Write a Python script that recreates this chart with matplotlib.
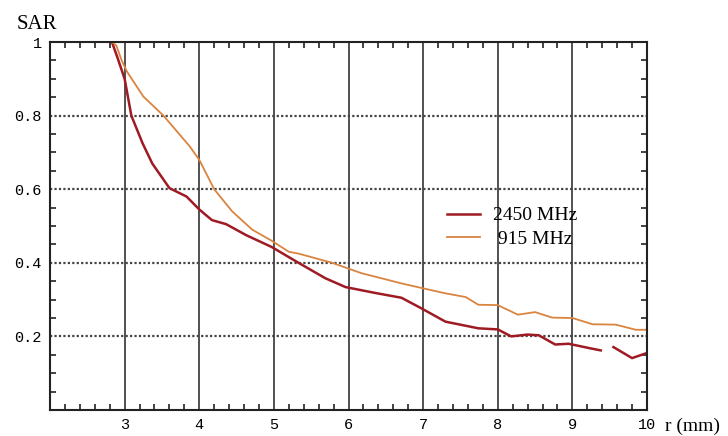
import matplotlib
matplotlib.use("Agg")
import matplotlib.pyplot as plt
import numpy as np
from matplotlib.ticker import MultipleLocator

# 2450 MHz curve (nan = gap in the trace)
r_2450 = [2.83, 2.9, 3.0, 3.09, 3.24, 3.37, 3.6, 3.83, 4.0, 4.17, 4.36, 4.63, 4.97,
          5.33, 5.69, 5.96, 6.36, 6.71, 6.97, 7.3, 7.74, 8.0, 8.18, 8.4, 8.55, 8.77,
          8.95, 9.23, 9.38, 9.45, 9.55, 9.8, 10.0]
sar_2450 = [1.0, 0.96, 0.9, 0.8, 0.725, 0.67, 0.603, 0.58, 0.545, 0.516, 0.505, 0.475, 0.443,
            0.40, 0.358, 0.334, 0.318, 0.305, 0.277, 0.24, 0.222, 0.219, 0.2, 0.205, 0.203, 0.178,
            0.18, 0.168, 0.162, np.nan, 0.171, 0.141, 0.155]

# 915 MHz curve
r_915 = [2.83, 2.89, 2.96, 3.03, 3.25, 3.52, 3.87, 4.0, 4.2, 4.44, 4.71, 4.97, 5.2,
         5.33, 5.78, 6.17, 6.71, 6.97, 7.3, 7.57, 7.74, 8.0, 8.27, 8.5, 8.73, 9.0,
         9.27, 9.58, 9.85, 10.0]
sar_915 = [1.0, 0.99, 0.95, 0.92, 0.852, 0.80, 0.717, 0.68, 0.60, 0.54, 0.49, 0.46, 0.43,
           0.425, 0.40, 0.372, 0.344, 0.332, 0.317, 0.307, 0.286, 0.285, 0.259, 0.266, 0.251, 0.25,
           0.233, 0.232, 0.218, 0.218]

x_ticks = [3, 4, 5, 6, 7, 8, 9, 10]
y_ticks = [0.2, 0.4, 0.6, 0.8, 1.0]
y_tick_labels = ["0.2", "0.4", "0.6", "0.8", "1"]

fig = plt.figure(figsize=(7.28, 4.36), dpi=100)
ax = fig.add_axes([50 / 728, 1 - 410 / 436, 597 / 728, 368 / 436])

ax.plot(r_2450, sar_2450, color="#9e1b24", lw=1.8, label="2450 MHz")
ax.plot(r_915, sar_915, color="#d9843f", lw=1.3, label=" 915 MHz")

ax.set_xlim(2, 10)
ax.set_ylim(0, 1)

ax.set_xticks(x_ticks)
ax.set_xticklabels([str(t) for t in x_ticks], family="Liberation Mono", fontsize=11)
ax.set_yticks(y_ticks)
ax.set_yticklabels(y_tick_labels, family="Liberation Mono", fontsize=11)
ax.xaxis.set_minor_locator(MultipleLocator(0.2))
ax.yaxis.set_minor_locator(MultipleLocator(0.05))
ax.tick_params(which="both", direction="in", top=True, right=True, color="#222222")
ax.tick_params(which="major", length=0, pad=6)
ax.tick_params(which="minor", length=4, width=1.2)

# solid vertical grid, dotted horizontal grid
for x in x_ticks[:-1]:
    ax.axvline(x, color="#333333", lw=1.2, zorder=0)
for y in y_ticks[:-1]:
    ax.axhline(y, color="#444444", lw=1.6, ls=(0, (1, 1)), zorder=0)

for s in ax.spines.values():
    s.set_color("#222222")
    s.set_linewidth(1.5)

ax.legend(loc="upper left", bbox_to_anchor=(0.635, 0.6), frameon=False,
          prop={"family": "Liberation Serif", "size": 14}, handlelength=1.7,
          labelspacing=0.3, handletextpad=0.7)

fig.text(17 / 728, 1 - 29 / 436, "SAR", family="Liberation Serif", fontsize=15,
         va="baseline", ha="left")
fig.text(665 / 728, 1 - 431 / 436, "r (mm)", family="Liberation Serif", fontsize=14,
         va="baseline", ha="left")

fig.savefig("out.png", dpi=100)
